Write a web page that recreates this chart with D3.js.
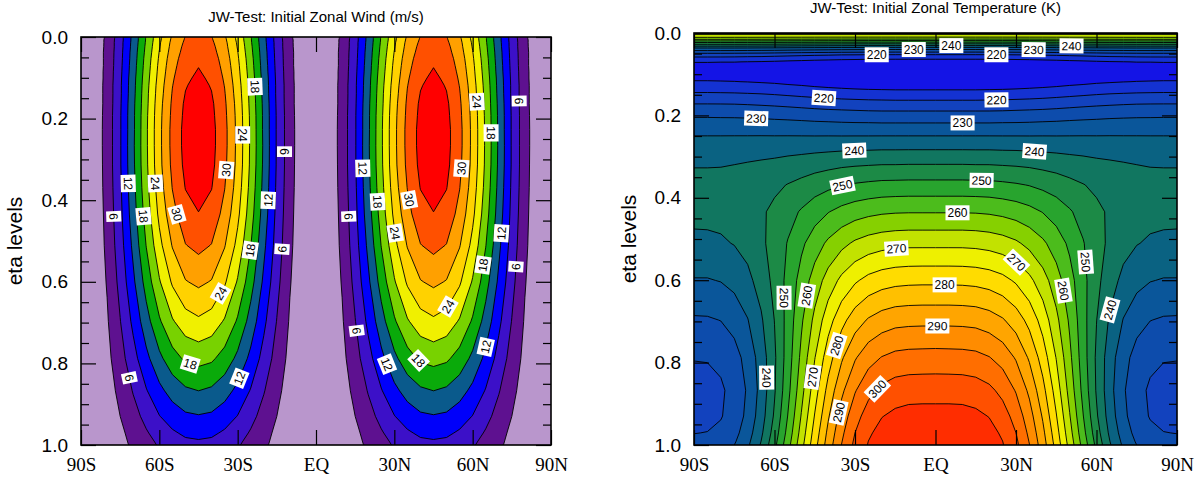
<!DOCTYPE html>
<html>
<head>
<meta charset="utf-8">
<script src="https://cdn.jsdelivr.net/npm/d3@7"></script>
<style>
  body { margin: 0; background: #fff; }
  svg text { font-family: "Liberation Sans", Arial, sans-serif; }
</style>
</head>
<body>
<div id="chart"></div>
<script>
"use strict";

// latitude columns (deg) of both fields
const latitudes = [-90,-85,-80,-75,-70,-65,-60,-55,-50,-45,-40,-35,-30,-25,-20,-15,-10,-5,0,5,10,15,20,25,30,35,40,45,50,55,60,65,70,75,80,85,90];

// eta rows of the zonal wind field
const windEta = [0,0.00354,0.00739,0.01397,0.02394,0.03723,0.05311,0.07006,0.08544,0.10051,0.11825,0.13912,0.16366,0.19254,0.22651,0.26648,0.3135,0.36882,0.4339,0.51046,0.60052,0.6968,0.7877,0.86716,0.92965,0.97055,0.99256,1.0];
const windLevels = [3,6,9,12,15,18,21,24,27,30,33];
const windColors = ["#b996cc","#5e1190","#3c10c8","#0000fa","#0a5a8c","#0aaa0a","#78d200","#f0f000","#ffd200","#ffa000","#ff5000","#ff0000"];
const windGrid = [
[0,0.9,3.6,7.8,12.8,18.2,23.3,27.4,30.1,31.0,30.1,27.4,23.3,18.2,12.8,7.8,3.6,0.9,0,0.9,3.6,7.8,12.8,18.2,23.3,27.4,30.1,31.0,30.1,27.4,23.3,18.2,12.8,7.8,3.6,0.9,0],
[0,0.9,3.6,7.8,12.9,18.3,23.3,27.5,30.2,31.1,30.2,27.5,23.3,18.3,12.9,7.8,3.6,0.9,0,0.9,3.6,7.8,12.9,18.3,23.3,27.5,30.2,31.1,30.2,27.5,23.3,18.3,12.9,7.8,3.6,0.9,0],
[0,0.9,3.7,7.8,12.9,18.3,23.4,27.6,30.3,31.2,30.3,27.6,23.4,18.3,12.9,7.8,3.7,0.9,0,0.9,3.7,7.8,12.9,18.3,23.4,27.6,30.3,31.2,30.3,27.6,23.4,18.3,12.9,7.8,3.7,0.9,0],
[0,0.9,3.7,7.9,13.0,18.4,23.6,27.8,30.5,31.4,30.5,27.8,23.6,18.4,13.0,7.9,3.7,0.9,0,0.9,3.7,7.9,13.0,18.4,23.6,27.8,30.5,31.4,30.5,27.8,23.6,18.4,13.0,7.9,3.7,0.9,0],
[0,1.0,3.7,7.9,13.1,18.6,23.8,28.0,30.8,31.7,30.8,28.0,23.8,18.6,13.1,7.9,3.7,1.0,0,1.0,3.7,7.9,13.1,18.6,23.8,28.0,30.8,31.7,30.8,28.0,23.8,18.6,13.1,7.9,3.7,1.0,0],
[0,1.0,3.8,8.0,13.3,18.8,24.1,28.3,31.1,32.1,31.1,28.3,24.1,18.8,13.3,8.0,3.8,1.0,0,1.0,3.8,8.0,13.3,18.8,24.1,28.3,31.1,32.1,31.1,28.3,24.1,18.8,13.3,8.0,3.8,1.0,0],
[0,1.0,3.8,8.1,13.4,19.1,24.4,28.7,31.5,32.5,31.5,28.7,24.4,19.1,13.4,8.1,3.8,1.0,0,1.0,3.8,8.1,13.4,19.1,24.4,28.7,31.5,32.5,31.5,28.7,24.4,19.1,13.4,8.1,3.8,1.0,0],
[0,1.0,3.8,8.2,13.6,19.3,24.7,29.0,31.9,32.9,31.9,29.0,24.7,19.3,13.6,8.2,3.8,1.0,0,1.0,3.8,8.2,13.6,19.3,24.7,29.0,31.9,32.9,31.9,29.0,24.7,19.3,13.6,8.2,3.8,1.0,0],
[0,1.0,3.9,8.3,13.7,19.5,24.9,29.3,32.2,33.2,32.2,29.3,24.9,19.5,13.7,8.3,3.9,1.0,0,1.0,3.9,8.3,13.7,19.5,24.9,29.3,32.2,33.2,32.2,29.3,24.9,19.5,13.7,8.3,3.9,1.0,0],
[0,1.0,3.9,8.4,13.9,19.7,25.1,29.6,32.5,33.5,32.5,29.6,25.1,19.7,13.9,8.4,3.9,1.0,0,1.0,3.9,8.4,13.9,19.7,25.1,29.6,32.5,33.5,32.5,29.6,25.1,19.7,13.9,8.4,3.9,1.0,0],
[0,1.0,4.0,8.5,14.0,19.9,25.4,29.9,32.8,33.9,32.8,29.9,25.4,19.9,14.0,8.5,4.0,1.0,0,1.0,4.0,8.5,14.0,19.9,25.4,29.9,32.8,33.9,32.8,29.9,25.4,19.9,14.0,8.5,4.0,1.0,0],
[0,1.0,4.0,8.5,14.1,20.1,25.6,30.2,33.1,34.2,33.1,30.2,25.6,20.1,14.1,8.5,4.0,1.0,0,1.0,4.0,8.5,14.1,20.1,25.6,30.2,33.1,34.2,33.1,30.2,25.6,20.1,14.1,8.5,4.0,1.0,0],
[0,1.0,4.0,8.6,14.3,20.2,25.9,30.5,33.5,34.5,33.5,30.5,25.9,20.2,14.3,8.6,4.0,1.0,0,1.0,4.0,8.6,14.3,20.2,25.9,30.5,33.5,34.5,33.5,30.5,25.9,20.2,14.3,8.6,4.0,1.0,0],
[0,1.0,4.1,8.7,14.4,20.4,26.1,30.7,33.7,34.8,33.7,30.7,26.1,20.4,14.4,8.7,4.1,1.0,0,1.0,4.1,8.7,14.4,20.4,26.1,30.7,33.7,34.8,33.7,30.7,26.1,20.4,14.4,8.7,4.1,1.0,0],
[0,1.1,4.1,8.7,14.4,20.5,26.2,30.9,33.9,35.0,33.9,30.9,26.2,20.5,14.4,8.7,4.1,1.1,0,1.1,4.1,8.7,14.4,20.5,26.2,30.9,33.9,35.0,33.9,30.9,26.2,20.5,14.4,8.7,4.1,1.1,0],
[0,1.1,4.1,8.7,14.5,20.5,26.2,30.9,33.9,35.0,33.9,30.9,26.2,20.5,14.5,8.7,4.1,1.1,0,1.1,4.1,8.7,14.5,20.5,26.2,30.9,33.9,35.0,33.9,30.9,26.2,20.5,14.5,8.7,4.1,1.1,0],
[0,1.0,4.1,8.7,14.4,20.4,26.1,30.7,33.7,34.8,33.7,30.7,26.1,20.4,14.4,8.7,4.1,1.0,0,1.0,4.1,8.7,14.4,20.4,26.1,30.7,33.7,34.8,33.7,30.7,26.1,20.4,14.4,8.7,4.1,1.0,0],
[0,1.0,4.0,8.5,14.1,20.0,25.6,30.1,33.1,34.1,33.1,30.1,25.6,20.0,14.1,8.5,4.0,1.0,0,1.0,4.0,8.5,14.1,20.0,25.6,30.1,33.1,34.1,33.1,30.1,25.6,20.0,14.1,8.5,4.0,1.0,0],
[0,1.0,3.8,8.2,13.6,19.3,24.7,29.0,31.9,32.9,31.9,29.0,24.7,19.3,13.6,8.2,3.8,1.0,0,1.0,3.8,8.2,13.6,19.3,24.7,29.0,31.9,32.9,31.9,29.0,24.7,19.3,13.6,8.2,3.8,1.0,0],
[0,0.9,3.6,7.7,12.7,18.1,23.1,27.2,29.9,30.8,29.9,27.2,23.1,18.1,12.7,7.7,3.6,0.9,0,0.9,3.6,7.7,12.7,18.1,23.1,27.2,29.9,30.8,29.9,27.2,23.1,18.1,12.7,7.7,3.6,0.9,0],
[0,0.8,3.2,6.9,11.4,16.2,20.7,24.4,26.8,27.6,26.8,24.4,20.7,16.2,11.4,6.9,3.2,0.8,0,0.8,3.2,6.9,11.4,16.2,20.7,24.4,26.8,27.6,26.8,24.4,20.7,16.2,11.4,6.9,3.2,0.8,0],
[0,0.7,2.7,5.9,9.7,13.8,17.6,20.7,22.7,23.5,22.7,20.7,17.6,13.8,9.7,5.9,2.7,0.7,0,0.7,2.7,5.9,9.7,13.8,17.6,20.7,22.7,23.5,22.7,20.7,17.6,13.8,9.7,5.9,2.7,0.7,0],
[0,0.6,2.2,4.8,7.9,11.2,14.3,16.8,18.5,19.0,18.5,16.8,14.3,11.2,7.9,4.8,2.2,0.6,0,0.6,2.2,4.8,7.9,11.2,14.3,16.8,18.5,19.0,18.5,16.8,14.3,11.2,7.9,4.8,2.2,0.6,0],
[0,0.5,1.8,3.7,6.2,8.8,11.2,13.2,14.5,15.0,14.5,13.2,11.2,8.8,6.2,3.7,1.8,0.5,0,0.5,1.8,3.7,6.2,8.8,11.2,13.2,14.5,15.0,14.5,13.2,11.2,8.8,6.2,3.7,1.8,0.5,0],
[0,0.4,1.4,3.0,4.9,6.9,8.9,10.4,11.5,11.8,11.5,10.4,8.9,6.9,4.9,3.0,1.4,0.4,0,0.4,1.4,3.0,4.9,6.9,8.9,10.4,11.5,11.8,11.5,10.4,8.9,6.9,4.9,3.0,1.4,0.4,0],
[0,0.3,1.1,2.4,4.0,5.7,7.3,8.6,9.5,9.8,9.5,8.6,7.3,5.7,4.0,2.4,1.1,0.3,0,0.3,1.1,2.4,4.0,5.7,7.3,8.6,9.5,9.8,9.5,8.6,7.3,5.7,4.0,2.4,1.1,0.3,0],
[0,0.3,1.0,2.2,3.6,5.1,6.5,7.7,8.5,8.7,8.5,7.7,6.5,5.1,3.6,2.2,1.0,0.3,0,0.3,1.0,2.2,3.6,5.1,6.5,7.7,8.5,8.7,8.5,7.7,6.5,5.1,3.6,2.2,1.0,0.3,0],
[0,0.3,1.0,2.1,3.5,4.9,6.3,7.4,8.1,8.4,8.1,7.4,6.3,4.9,3.5,2.1,1.0,0.3,0,0.3,1.0,2.1,3.5,4.9,6.3,7.4,8.1,8.4,8.1,7.4,6.3,4.9,3.5,2.1,1.0,0.3,0]
];

// eta rows of the temperature field
const tempEta = [0.00354,0.00739,0.01397,0.02394,0.03723,0.05311,0.07006,0.08544,0.10051,0.11825,0.13912,0.16366,0.19254,0.22651,0.26648,0.3135,0.36882,0.4339,0.51046,0.60052,0.6968,0.7877,0.86716,0.92965,0.97055,0.99256,1.0];
const tempLevels = [215,220,225,230,235,240,245,250,255,260,265,270,275,280,285,290,295,300,305];
const tempColors = ["#1414e6","#1432d2","#1242be","#0d4cac","#0a569a","#0a6282","#117660","#1c8a46","#28a42e","#4cbc1c","#86d000","#c2e200","#eef000","#ffdc00","#ffc000","#ffa500","#ff8c00","#ff6e00","#ff5000","#ff2d00"];
const tempGrid = [
[266.7,266.7,266.7,266.7,266.7,266.7,266.7,266.7,266.6,266.6,266.6,266.6,266.6,266.6,266.5,266.5,266.5,266.5,266.5,266.5,266.5,266.5,266.5,266.6,266.6,266.6,266.6,266.6,266.6,266.7,266.7,266.7,266.7,266.7,266.7,266.7,266.7],
[268.0,268.0,268.0,267.9,267.9,267.8,267.8,267.7,267.7,267.7,267.6,267.6,267.6,267.6,267.6,267.6,267.6,267.6,267.6,267.6,267.6,267.6,267.6,267.6,267.6,267.6,267.6,267.7,267.7,267.7,267.8,267.8,267.9,267.9,268.0,268.0,268.0],
[261.7,261.7,261.7,261.6,261.6,261.5,261.5,261.4,261.3,261.2,261.1,261.0,261.0,260.9,260.9,260.9,260.9,260.9,260.9,260.9,260.9,260.9,260.9,260.9,261.0,261.0,261.1,261.2,261.3,261.4,261.5,261.5,261.6,261.6,261.7,261.7,261.7],
[248.9,248.9,248.9,248.9,248.8,248.7,248.6,248.4,248.3,248.1,248.0,247.9,247.8,247.7,247.7,247.7,247.7,247.7,247.7,247.7,247.7,247.7,247.7,247.7,247.8,247.9,248.0,248.1,248.3,248.4,248.6,248.7,248.8,248.9,248.9,248.9,248.9],
[234.1,234.1,234.1,234.1,234.0,233.8,233.7,233.4,233.2,233.0,232.8,232.6,232.5,232.4,232.3,232.3,232.3,232.3,232.3,232.3,232.3,232.3,232.3,232.4,232.5,232.6,232.8,233.0,233.2,233.4,233.7,233.8,234.0,234.1,234.1,234.1,234.1],
[222.1,222.1,222.1,222.0,221.8,221.7,221.4,221.1,220.8,220.5,220.3,220.0,219.9,219.7,219.7,219.6,219.6,219.6,219.6,219.6,219.6,219.6,219.7,219.7,219.9,220.0,220.3,220.5,220.8,221.1,221.4,221.7,221.8,222.0,222.1,222.1,222.1],
[215.2,215.2,215.1,215.1,214.9,214.7,214.4,214.0,213.7,213.3,213.0,212.7,212.5,212.3,212.2,212.2,212.2,212.2,212.2,212.2,212.2,212.2,212.2,212.3,212.5,212.7,213.0,213.3,213.7,214.0,214.4,214.7,214.9,215.1,215.1,215.2,215.2],
[212.9,212.9,212.9,212.8,212.6,212.3,212.0,211.6,211.2,210.8,210.4,210.1,209.9,209.7,209.6,209.6,209.5,209.5,209.5,209.5,209.5,209.6,209.6,209.7,209.9,210.1,210.4,210.8,211.2,211.6,212.0,212.3,212.6,212.8,212.9,212.9,212.9],
[213.1,213.1,213.1,213.0,212.8,212.5,212.2,211.7,211.3,210.9,210.5,210.1,209.9,209.7,209.6,209.5,209.5,209.5,209.5,209.5,209.5,209.5,209.6,209.7,209.9,210.1,210.5,210.9,211.3,211.7,212.2,212.5,212.8,213.0,213.1,213.1,213.1],
[215.3,215.3,215.2,215.1,214.9,214.6,214.3,213.8,213.4,212.9,212.5,212.1,211.9,211.7,211.6,211.5,211.5,211.5,211.5,211.5,211.5,211.5,211.6,211.7,211.9,212.1,212.5,212.9,213.4,213.8,214.3,214.6,214.9,215.1,215.2,215.3,215.3],
[219.0,219.0,218.9,218.8,218.6,218.4,218.0,217.5,217.1,216.6,216.2,215.9,215.6,215.4,215.3,215.2,215.2,215.2,215.2,215.2,215.2,215.2,215.3,215.4,215.6,215.9,216.2,216.6,217.1,217.5,218.0,218.4,218.6,218.8,218.9,219.0,219.0],
[223.6,223.6,223.6,223.5,223.3,223.0,222.7,222.3,221.8,221.4,221.0,220.7,220.5,220.3,220.2,220.1,220.1,220.1,220.1,220.1,220.1,220.1,220.2,220.3,220.5,220.7,221.0,221.4,221.8,222.3,222.7,223.0,223.3,223.5,223.6,223.6,223.6],
[228.4,228.4,228.3,228.3,228.1,227.9,227.6,227.3,227.0,226.6,226.3,226.1,225.9,225.7,225.6,225.6,225.6,225.6,225.6,225.6,225.6,225.6,225.6,225.7,225.9,226.1,226.3,226.6,227.0,227.3,227.6,227.9,228.1,228.3,228.3,228.4,228.4],
[232.8,232.8,232.8,232.7,232.7,232.6,232.4,232.3,232.1,231.9,231.8,231.6,231.5,231.5,231.4,231.4,231.4,231.4,231.4,231.4,231.4,231.4,231.4,231.5,231.5,231.6,231.8,231.9,232.1,232.3,232.4,232.6,232.7,232.7,232.8,232.8,232.8],
[236.6,236.6,236.6,236.7,236.7,236.8,236.9,237.0,237.1,237.2,237.3,237.4,237.5,237.5,237.6,237.6,237.6,237.6,237.6,237.6,237.6,237.6,237.6,237.5,237.5,237.4,237.3,237.2,237.1,237.0,236.9,236.8,236.7,236.7,236.6,236.6,236.6],
[239.6,239.6,239.6,239.8,240.0,240.4,240.8,241.4,241.9,242.5,243.0,243.5,243.8,244.0,244.2,244.2,244.3,244.3,244.3,244.3,244.3,244.2,244.2,244.0,243.8,243.5,243.0,242.5,241.9,241.4,240.8,240.4,240.0,239.8,239.6,239.6,239.6],
[241.2,241.2,241.4,241.6,242.2,243.0,244.0,245.2,246.4,247.7,248.8,249.8,250.5,251.0,251.4,251.5,251.6,251.6,251.6,251.6,251.6,251.5,251.4,251.0,250.5,249.8,248.8,247.7,246.4,245.2,244.0,243.0,242.2,241.6,241.4,241.2,241.2],
[241.2,241.2,241.4,241.9,242.9,244.3,246.1,248.2,250.5,252.8,254.8,256.5,257.8,258.7,259.3,259.6,259.7,259.7,259.7,259.7,259.7,259.6,259.3,258.7,257.8,256.5,254.8,252.8,250.5,248.2,246.1,244.3,242.9,241.9,241.4,241.2,241.2],
[239.0,239.1,239.4,240.2,241.7,244.0,246.9,250.3,254.0,257.6,260.9,263.6,265.8,267.2,268.1,268.6,268.8,268.8,268.8,268.8,268.8,268.6,268.1,267.2,265.8,263.6,260.9,257.6,254.0,250.3,246.9,244.0,241.7,240.2,239.4,239.1,239.0],
[234.7,234.7,235.2,236.5,238.7,242.1,246.4,251.5,256.9,262.2,267.1,271.2,274.3,276.5,277.8,278.5,278.8,278.9,278.9,278.9,278.8,278.5,277.8,276.5,274.3,271.2,267.1,262.2,256.9,251.5,246.4,242.1,238.7,236.5,235.2,234.7,234.7],
[229.4,229.5,230.1,231.8,234.8,239.3,245.1,251.9,259.2,266.3,272.9,278.4,282.6,285.5,287.3,288.3,288.6,288.7,288.7,288.7,288.6,288.3,287.3,285.5,282.6,278.4,272.9,266.3,259.2,251.9,245.1,239.3,234.8,231.8,230.1,229.5,229.4],
[225.2,225.3,226.1,228.1,231.8,237.2,244.2,252.4,261.2,269.8,277.7,284.3,289.5,293.1,295.2,296.4,296.8,296.9,297.0,296.9,296.8,296.4,295.2,293.1,289.5,284.3,277.7,269.8,261.2,252.4,244.2,237.2,231.8,228.1,226.1,225.3,225.2],
[223.3,223.4,224.3,226.6,230.6,236.7,244.5,253.5,263.2,272.8,281.6,288.9,294.6,298.6,301.1,302.4,302.9,303.0,303.0,303.0,302.9,302.4,301.1,298.6,294.6,288.9,281.6,272.8,263.2,253.5,244.5,236.7,230.6,226.6,224.3,223.4,223.3],
[223.6,223.8,224.7,227.0,231.3,237.6,245.7,255.2,265.3,275.3,284.4,292.1,298.1,302.2,304.8,306.1,306.7,306.8,306.8,306.8,306.7,306.1,304.8,302.2,298.1,292.1,284.4,275.3,265.3,255.2,245.7,237.6,231.3,227.0,224.7,223.8,223.6],
[224.9,225.1,226.0,228.4,232.7,239.0,247.2,256.7,266.9,277.0,286.2,293.9,300.0,304.2,306.8,308.1,308.7,308.8,308.8,308.8,308.7,308.1,306.8,304.2,300.0,293.9,286.2,277.0,266.9,256.7,247.2,239.0,232.7,228.4,226.0,225.1,224.9],
[225.9,226.2,227.1,229.5,233.8,240.1,248.3,257.8,267.9,277.9,287.1,294.8,300.9,305.1,307.7,309.0,309.5,309.7,309.7,309.7,309.5,309.0,307.7,305.1,300.9,294.8,287.1,277.9,267.9,257.8,248.3,240.1,233.8,229.5,227.1,226.2,225.9],
[226.5,226.7,227.6,230.0,234.2,240.5,248.7,258.2,268.3,278.3,287.4,295.1,301.1,305.3,307.9,309.3,309.8,309.9,310.0,309.9,309.8,309.3,307.9,305.3,301.1,295.1,287.4,278.3,268.3,258.2,248.7,240.5,234.2,230.0,227.6,226.7,226.5]
];

// axes
const latTicks = [-90,-60,-30,0,30,60,90];
const latTickLabels = ["90S","60S","30S","EQ","30N","60N","90N"];
const etaTicks = [0,0.2,0.4,0.6,0.8,1.0];
const etaTickLabels = ["0.0","0.2","0.4","0.6","0.8","1.0"];
const etaMinorTicks = [0.05,0.1,0.15,0.25,0.3,0.35,0.45,0.5,0.55,0.65,0.7,0.75,0.85,0.9,0.95];

// contour labels: [level, lat, eta] near where each label sits
const windLabels = [
  [18,-24.6,0.122],[24,-28.5,0.24],[6,-12.5,0.281],[30,-34.6,0.326],[12,-72.5,0.359],[24,-61.9,0.359],
  [12,-18.9,0.40],[6,-78.2,0.44],[18,-67.4,0.44],[30,-54.0,0.436],[18,-26.0,0.522],[6,-12.6,0.52],
  [24,-37.5,0.625],[18,-48.3,0.804],[12,-29.5,0.836],[6,-72.0,0.836],
  [24,60.9,0.159],[18,66.6,0.235],[6,77.0,0.157],[12,17.5,0.322],[30,55.8,0.322],[18,23.0,0.404],
  [30,35.0,0.40],[6,12.0,0.44],[24,29.9,0.481],[12,71.1,0.481],[18,64.1,0.559],[6,76.9,0.563],
  [24,50.7,0.661],[6,15.3,0.72],[12,64.7,0.759],[12,26.4,0.804],[18,39.1,0.794]
];
const tempLabels = [
  [230,-8.1,0.029],[240,5.9,0.019],[220,-21.9,0.049],[220,22.7,0.049],[230,36.6,0.029],[240,50.7,0.019],
  [220,-41.5,0.148],[220,22.7,0.15],[230,-66.8,0.204],[230,10.1,0.211],[240,-30.3,0.277],[240,37.0,0.279],
  [250,-34.7,0.369],[250,17.2,0.35],[260,8.2,0.434],[270,-14.6,0.519],[270,30.2,0.556],[260,-56.0,0.629],
  [250,55.6,0.556],[280,3.4,0.612],[250,-66.8,0.643],[260,47.0,0.626],[280,-43.3,0.745],[290,0.7,0.711],
  [240,65.0,0.672],[240,-72.4,0.837],[270,-45.9,0.835],[300,-23.2,0.854],[290,-36.6,0.92]
];

const leftPanel = { x: 81, y: 37, width: 470, height: 408, titleY: 22, labelX: 22,
  title: "JW-Test: Initial Zonal Wind (m/s)" };
const rightPanel = { x: 694, y: 33, width: 483, height: 412, titleY: 13, labelX: 636,
  title: "JW-Test: Initial Zonal Temperature (K)" };

const svg = d3.select("#chart").append("svg")
  .attr("width", 1200)
  .attr("height", 478);

drawPanel(leftPanel, windGrid, windEta, windLevels, windColors, windLabels, "clipL");
drawPanel(rightPanel, tempGrid, tempEta, tempLevels, tempColors, tempLabels, "clipR");

function drawPanel(p, grid, etaRows, levels, colors, labels, clipId) {
  let nx = latitudes.length, ny = etaRows.length;
  let xScale = d3.scaleLinear().domain([-90, 90]).range([p.x, p.x + p.width]);
  let yScale = d3.scaleLinear().domain([0, 1]).range([p.y, p.y + p.height]);
  // grid index -> data coordinate
  let colToLat = d3.scaleLinear().domain(d3.range(nx)).range(latitudes);
  let rowToEta = d3.scaleLinear().domain(d3.range(ny)).range(etaRows);
  let px = (c) => xScale(colToLat(c - 0.5));
  let py = (r) => yScale(rowToEta(r - 0.5));

  let contours = d3.contours()
    .size([nx, ny])
    .thresholds(levels)(grid.flat());

  let path = d3.geoPath(d3.geoTransform({
    point: function (x, y) { this.stream.point(px(x), py(y)); }
  }));

  svg.append("clipPath").attr("id", clipId)
    .append("rect")
    .attr("x", p.x).attr("y", p.y)
    .attr("width", p.width).attr("height", p.height);

  let plot = svg.append("g").attr("clip-path", "url(#" + clipId + ")");

  plot.append("rect")
    .attr("x", p.x).attr("y", p.y)
    .attr("width", p.width).attr("height", p.height)
    .attr("fill", colors[0]);

  plot.selectAll(".band")
    .data(contours)
    .enter()
    .append("path")
    .attr("d", path)
    .attr("fill", (d, i) => colors[i + 1])
    .attr("fill-rule", "evenodd");

  plot.selectAll(".line")
    .data(contours)
    .enter()
    .append("path")
    .attr("d", path)
    .attr("fill", "none")
    .attr("stroke", "#000")
    .attr("stroke-width", 0.9);

  // contour labels
  for (let spec of labels) {
    let cont = contours.find((c) => c.value === spec[0]);
    let tx = xScale(spec[1]), ty = yScale(spec[2]);
    let best = { d: Infinity };
    cont.coordinates.forEach((poly) => poly.forEach((ring) => {
      let pts = ring.map((q) => [px(q[0]), py(q[1])]);
      for (let i = 0; i < pts.length - 1; i++) {
        let [ax, ay] = pts[i], [bx, by] = pts[i + 1];
        let dx = bx - ax, dy = by - ay;
        let len = dx * dx + dy * dy;
        if (len === 0) continue;
        let t = Math.max(0, Math.min(1, ((tx - ax) * dx + (ty - ay) * dy) / len));
        let cx = ax + t * dx, cy = ay + t * dy;
        if (cx <= p.x + 1 || cx >= p.x + p.width - 1 || cy <= p.y + 1 || cy >= p.y + p.height - 1) continue;
        let dist = (cx - tx) ** 2 + (cy - ty) ** 2;
        if (dist < best.d) best = { d: dist, x: cx, y: cy, a: Math.atan2(dy, dx) * 180 / Math.PI };
      }
    }));
    if (best.d === Infinity) continue;
    let angle = best.a;
    if (angle > 90) angle -= 180;
    if (angle <= -90) angle += 180;
    let g = plot.append("g")
      .attr("transform", "translate(" + best.x + "," + best.y + ") rotate(" + angle + ")");
    let rect = g.append("rect").attr("fill", "#fff");
    let txt = g.append("text")
      .attr("text-anchor", "middle")
      .attr("dy", "0.36em")
      .style("font-size", "12px")
      .text(spec[0]);
    let w = txt.node().getComputedTextLength();
    rect.attr("x", -w / 2 - 2).attr("y", -7.5).attr("width", w + 4).attr("height", 15);
  }

  // inward tick marks on all four sides
  let tickG = svg.append("g");
  tickG.append("g").attr("transform", "translate(" + p.x + ",0)")
    .call(d3.axisRight(yScale).tickValues(etaTicks).tickSize(15).tickFormat(""));
  tickG.append("g").attr("transform", "translate(" + p.x + ",0)")
    .call(d3.axisRight(yScale).tickValues(etaMinorTicks).tickSize(8).tickFormat(""));
  tickG.append("g").attr("transform", "translate(" + (p.x + p.width) + ",0)")
    .call(d3.axisLeft(yScale).tickValues(etaTicks).tickSize(15).tickFormat(""));
  tickG.append("g").attr("transform", "translate(" + (p.x + p.width) + ",0)")
    .call(d3.axisLeft(yScale).tickValues(etaMinorTicks).tickSize(8).tickFormat(""));
  tickG.append("g").attr("transform", "translate(0," + (p.y + p.height) + ")")
    .call(d3.axisTop(xScale).tickValues(latTicks).tickSize(15).tickFormat(""));
  tickG.append("g").attr("transform", "translate(0," + p.y + ")")
    .call(d3.axisBottom(xScale).tickValues(latTicks).tickSize(15).tickFormat(""));
  tickG.selectAll(".domain").remove();
  tickG.selectAll("line").attr("stroke", "#000").attr("stroke-width", 1.2);

  // tick labels
  let yAxis = svg.append("g")
    .attr("transform", "translate(" + p.x + ",0)")
    .call(d3.axisLeft(yScale).tickValues(etaTicks).tickSize(0).tickPadding(13)
      .tickFormat((d, i) => etaTickLabels[i]));
  yAxis.select(".domain").remove();
  yAxis.selectAll("text")
    .style("font-family", "'Liberation Sans', Arial, sans-serif")
    .style("font-size", "19px")
    .attr("fill", "#000");

  let xAxis = svg.append("g")
    .attr("transform", "translate(0," + (p.y + p.height) + ")")
    .call(d3.axisBottom(xScale).tickValues(latTicks).tickSize(0).tickPadding(13)
      .tickFormat((d, i) => latTickLabels[i]));
  xAxis.select(".domain").remove();
  xAxis.selectAll("text")
    .style("font-family", "'Liberation Serif', 'Times New Roman', serif")
    .style("font-size", "19px")
    .attr("fill", "#000");

  // frame
  svg.append("rect")
    .attr("x", p.x).attr("y", p.y)
    .attr("width", p.width).attr("height", p.height)
    .attr("fill", "none")
    .attr("stroke", "#000")
    .attr("stroke-width", 1.6);

  svg.append("text")
    .attr("x", p.x + p.width / 2)
    .attr("y", p.titleY)
    .attr("text-anchor", "middle")
    .style("font-size", "15px")
    .text(p.title);

  svg.append("text")
    .attr("transform", "translate(" + p.labelX + "," + (p.y + p.height / 2) + ") rotate(-90)")
    .attr("text-anchor", "middle")
    .style("font-size", "21px")
    .text("eta levels");
}
</script>
</body>
</html>
